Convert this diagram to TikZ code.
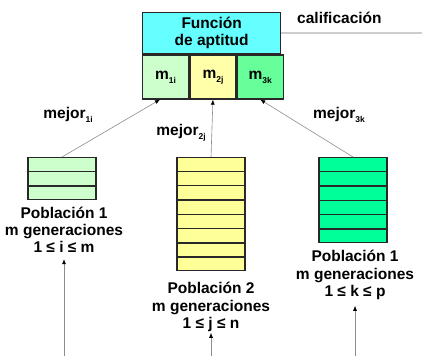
\documentclass[tikz,border=0pt]{standalone}
\usepackage{fontspec}
\setmainfont{Liberation Sans}
\usetikzlibrary{
  arrows.meta,
  positioning,
  calc
}
\definecolor{agFit}{RGB}{102,255,255}
\definecolor{agPopA}{RGB}{204,255,204}
\definecolor{agPopB}{RGB}{255,255,153}
\definecolor{agPopC}{RGB}{0,255,153}
\definecolor{agCellB}{RGB}{255,255,170}
\definecolor{agCellC}{RGB}{102,255,153}
\definecolor{agLine}{RGB}{40,40,40}
\definecolor{agArrow}{RGB}{140,140,140}
\definecolor{agRule}{RGB}{205,205,205}
\newcommand{\agsub}[1]{\raisebox{-0.5ex}{\fontsize{8.5}{8.5}\selectfont #1}}
\tikzset{
  agbox/.style={
    draw=agLine,
    line width=1.3pt,
    inner sep=0pt,
    align=center,
    font=\fontsize{15.5}{17}\selectfont\bfseries
  },
  agcell/.style={
    agbox,
    minimum width=46pt,
    minimum height=44pt
  },
  agstack/.style={
    draw=agLine,
    line width=1.4pt,
    minimum width=68pt,
    inner sep=0pt
  },
  agtext/.style={
    align=center,
    inner sep=1pt,
    font=\fontsize{15.5}{17.3}\selectfont\bfseries
  },
  agarrow/.style={
    -{Latex[length=5pt,width=4pt,color=black]},
    draw=agArrow,
    line width=0.6pt
  }
}

\begin{document}
\begin{tikzpicture}[x=1pt,y=-1pt]
  \useasboundingbox (0,0) rectangle (422,356);

  % fitness function box
  \node[agbox, fill=agFit, minimum width=138pt, minimum height=41pt, anchor=north west] (fit)
    at (142,12) {Función\\de aptitud};
  \node[agcell, fill=agPopA, minimum height=44pt, anchor=north west] (m1) at (fit.south west) {m\agsub{1i}};
  \node[agcell, fill=agCellB, anchor=north west] (m2) at (m1.north east) {m\agsub{2j}};
  \node[agcell, fill=agCellC, anchor=north west] (m3) at (m2.north east) {m\agsub{3k}};

  \node[agtext, anchor=west] (calif) at (296,18) {calificación};
  \draw[agRule, line width=1.5pt] (fit.east |- 0,33) -- (422,33);

  % populations
  \node[agstack, fill=agPopA, minimum height=42pt, anchor=north] (pob1) at (62,157) {};
  \node[agstack, fill=agPopB, minimum height=113pt, anchor=north] (pob2) at (211,157) {};
  \node[agstack, fill=agPopC, minimum height=85pt, anchor=north] (pob3) at (353,157) {};
  \foreach \p/\n in {pob1/3, pob2/8, pob3/6}{
    \foreach \k in {1,...,\n}{
      \ifnum\k<\n
        \draw[agLine, line width=1.4pt]
          ($(\p.north west)!\k/\n!(\p.south west)$) -- ($(\p.north east)!\k/\n!(\p.south east)$);
      \fi
    }
  }

  \node[agtext] (txt1) at (64,230) {Población 1\\m generaciones\\1 ≤ i ≤ m};
  \node[agtext] (txt2) at (211,307) {Población 2\\m generaciones\\1 ≤ j ≤ n};
  \node[agtext] (txt3) at (355,275) {Población 1\\m generaciones\\1 ≤ k ≤ p};

  % best individuals
  \draw[agarrow] (pob1.north) -- ($(m1.south west)!0.38!(m1.south east)$);
  \draw[agarrow] (pob2.north) -- (m2.south);
  \draw[agarrow] (pob3.north) -- (m3.south);

  \node[agtext] (best1) at (68,115) {mejor\agsub{1i}};
  \node[agtext] (best2) at (181,133) {mejor\agsub{2j}};
  \node[agtext] (best3) at (339,115) {mejor\agsub{3k}};

  % inputs
  \coordinate (in1) at (txt1.south |- 0,356);
  \coordinate (in2) at (txt2.south |- 0,356);
  \coordinate (in3) at (txt3.south |- 0,356);
  \draw[agarrow] (in1) -- ($(txt1.south)+(0,5)$);
  \draw[agarrow] (in2) -- (txt2.south);
  \draw[agarrow] (in3) -- ($(txt3.south)+(0,5)$);
\end{tikzpicture}
\end{document}
